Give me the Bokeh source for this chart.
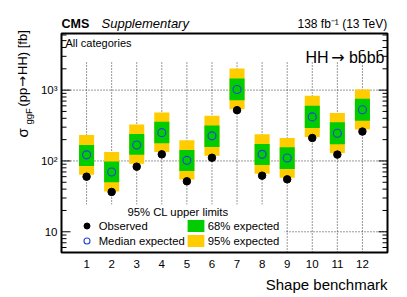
import numpy as np
from bokeh.plotting import figure
from bokeh.models import ColumnDataSource, Label, Legend, LegendItem
from bokeh.core.properties import value
from bokeh.embed import file_html
from bokeh.resources import INLINE

# ---------------- data ----------------
benchmarks = [1, 2, 3, 4, 5, 6, 7, 8, 9, 10, 11, 12]
observed = [60, 36.5, 83, 124, 51.6, 111, 521, 62, 55, 211, 123, 260]
median_exp = [122, 70, 168, 251, 102, 226, 1019, 124, 110, 419, 246, 527]
exp68_lo = [85, 50, 122, 178, 72, 158, 722, 88, 77, 293, 172, 368]
exp68_hi = [168, 98, 241, 357, 143, 316, 1459, 174, 156, 600, 353, 754]
exp95_lo = [64, 37, 91, 134, 54.5, 118, 539, 66, 58, 218, 130, 277]
exp95_hi = [233, 134, 326, 482, 196, 433, 2023, 239, 211, 830, 477, 1019]

y_major_ticks = [10, 100, 1000]
y_tick_labels = ["10", "10\u00b2", "10\u00b3"]
x_tick_labels = [str(b) for b in benchmarks]

# ---------------- layout ----------------
X0, X1 = 0, 13              # axis box, data units
Y0, Y1 = 5.1, 6300
PAGE = 0                    # bokeh's page template has no body margin
W, H = 407, 297
BL, BT, BW, BH = 61, 33, 326, 219          # axis box on the page (px)
LY0, LY1 = float(np.log10(Y0)), float(np.log10(Y1))
PXU = BW / (X1 - X0)
PXD = BH / (LY1 - LY0)


def dx(px):
    return float(X0 + (px - BL) / PXU)


def dy(py):
    return float(10 ** (LY0 + (BT + BH - py) / PXD))


# the frame spans the whole canvas; the axis box is drawn inside it
XC0, XC1 = dx(PAGE), dx(PAGE + W)
YC0, YC1 = dy(PAGE + H), dy(PAGE)

FONT = "Liberation Sans"
ARROW_FONT = "DejaVu Sans"
GRID_COLOR = "#333333"
GRID_DASH = "1 2"

p = figure(width=W, height=H, x_range=(XC0, XC1), y_range=(YC0, YC1),
           y_axis_type="log", x_axis_location=None, y_axis_location=None,
           output_backend="svg", toolbar_location=None, min_border=0)
p.background_fill_color = "white"
p.border_fill_color = "white"
p.outline_line_color = None
p.grid.visible = False

minor_y = [m * 10 ** k for k in range(0, 4) for m in range(2, 10)
           if Y0 < m * 10 ** k < Y1]

src = ColumnDataSource(dict(x=benchmarks, obs=observed, med=median_exp,
                            lo68=exp68_lo, hi68=exp68_hi,
                            lo95=exp95_lo, hi95=exp95_hi))

# grid lines
grid_top = 2450
p.segment(x0=X0, x1=X1, y0=y_major_ticks, y1=y_major_ticks,
          line_color=GRID_COLOR, line_dash=GRID_DASH, line_width=1)
p.segment(x0="x", x1="x", y0=Y0, y1=grid_top, source=src,
          line_color=GRID_COLOR, line_dash=GRID_DASH, line_width=1)

# legend background (white panel covering the grid)
p.quad(left=[X0], right=[dx(284)], bottom=[Y0], top=[dy(204)],
       fill_color="white", line_color=None)

r95 = p.vbar(x="x", width=0.6, bottom="lo95", top="hi95", source=src,
             fill_color="#FFCC00", line_color=None)
r68 = p.vbar(x="x", width=0.6, bottom="lo68", top="hi68", source=src,
             fill_color="#00CC00", line_color=None)
r_med = p.scatter(x="x", y="med", source=src, marker="circle", size=8,
                  fill_color=None, line_color="#2040E0", line_width=1.1)
r_obs = p.scatter(x="x", y="obs", source=src, marker="circle", size=7.5,
                  fill_color="black", line_color="black")

# ticks (inward, on both vertical sides)
MAJ, MIN = 9 / PXU, 5 / PXU
for xe, sgn in ((X0, 1), (X1, -1)):
    p.segment(x0=xe, x1=xe + sgn * MAJ, y0=y_major_ticks, y1=y_major_ticks,
              line_color="black", line_width=1)
    p.segment(x0=xe, x1=xe + sgn * MIN, y0=minor_y, y1=minor_y,
              line_color="black", line_width=1)

# axis box
p.quad(left=[X0], right=[X1], bottom=[Y0], top=[Y1], fill_color=None,
       line_color="black", line_width=2)

# tick labels
p.text(x=dx(57), y=y_major_ticks, text=y_tick_labels, text_font=value(FONT),
       text_font_size=value("11.5px"), text_align="right", text_baseline="middle",
       text_color="black")
p.text(x=benchmarks, y=dy(263.5), text=x_tick_labels, text_font=value(FONT),
       text_font_size=value("11.5px"), text_align="center", text_baseline="middle",
       text_color="black")

LEG_FS = "11.3px"
legend = Legend(items=[LegendItem(label="Observed", renderers=[r_obs]),
                       LegendItem(label="Median expected", renderers=[r_med]),
                       LegendItem(label="68% expected", renderers=[r68]),
                       LegendItem(label="95% expected", renderers=[r95])],
                location=(75.7 - PAGE, PAGE + H - 248), ncols=2,
                glyph_width=21, glyph_height=15,
                label_height=15, label_width=10, label_standoff=2, spacing=0,
                padding=0, margin=0, background_fill_alpha=0,
                border_line_color=None, label_text_font=FONT,
                label_text_font_size=LEG_FS, label_text_color="black")
p.add_layout(legend)


def txt(x, y, text, size, align="left", baseline="alphabetic", style="normal",
        angle=0.0, font=FONT):
    p.add_layout(Label(x=x, y=y, text=text, text_font=font, text_font_size=size,
                       text_align=align, text_baseline=baseline,
                       text_font_style=style, text_color="black", angle=angle))


ROT = float(np.pi / 2)
txt(dx(177.5), dy(211), "95% CL upper limits", LEG_FS, align="center",
    baseline="middle")
txt(dx(61), dy(23), "CMS", "12.5px", style="bold")
txt(dx(101), dy(23), "Supplementary", "13px", style="italic")
txt(dx(387), dy(23), "138 fb\u207b\u00b9 (13 TeV)", "12px", align="right")
txt(dx(65), dy(42), "All categories", "11px")
# HH -> b bbar b bbar
txt(dx(384), dy(57), "bb\u0304bb\u0304", "16px", align="right")
txt(dx(337.5), dy(57), "\u2192", "16px", align="center", font=ARROW_FONT)
txt(dx(328), dy(57), "HH", "16px", align="right")
txt(dx(387), dy(284), "Shape benchmark", "15px", align="right")
# y title: sigma_ggF (pp -> HH) [fb], rotated
txt(dx(22), dy(137), "\u03c3", "15px", baseline="middle", angle=ROT)
txt(dx(27.5), dy(124), "ggF", "9.5px", baseline="middle", angle=ROT)
txt(dx(21.5), dy(106), "(pp", "13px", baseline="middle", angle=ROT)
txt(dx(21.5), dy(81), "\u2192", "13px", align="center", baseline="middle",
    angle=ROT, font=ARROW_FONT)
txt(dx(21.5), dy(74.5), "HH) [fb]", "13px", baseline="middle", angle=ROT)

open("out.html", "w").write(file_html(p, INLINE))
